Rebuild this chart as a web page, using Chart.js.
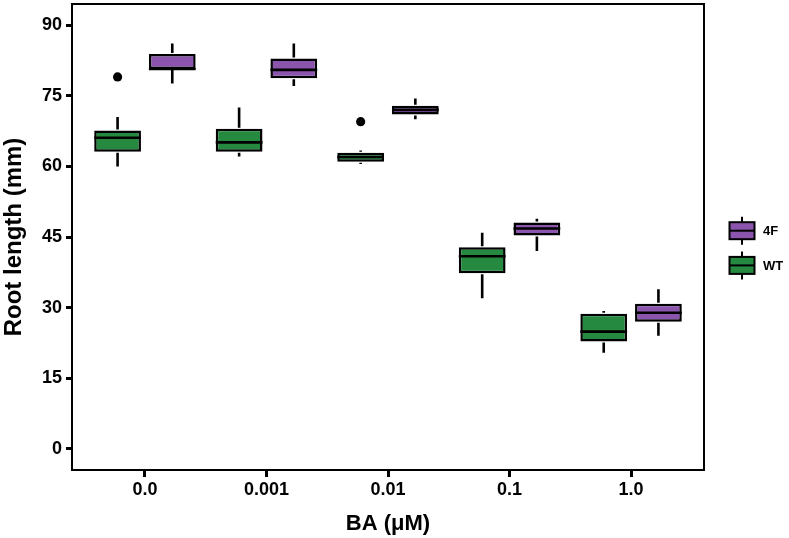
<!DOCTYPE html>
<html>
<head>
<meta charset="utf-8">
<script src="https://cdn.jsdelivr.net/npm/chart.js@4"></script>
<style>
html,body{margin:0;padding:0;background:#fff;}
#wrap{width:789px;height:538px;}
</style>
</head>
<body>
<div id="wrap"><canvas id="c" width="789" height="538"></canvas></div>
<script>
// ---- data ----
const categories = ["0.0", "0.001", "0.01", "0.1", "1.0"];
const yTicks = [0, 15, 30, 45, 60, 75, 90];
const seriesNames = ["WT", "4F"];

const wtLow    = [60.0, 62.1, 60.5, 32.0, 20.4];
const wtQ1     = [63.1, 63.1, 61.0, 37.3, 22.8];
const wtMedian = [66.1, 65.1, 62.0, 40.9, 24.9];
const wtQ3     = [67.6, 68.0, 62.9, 42.8, 28.7];
const wtHigh   = [70.5, 72.5, 63.4, 45.9, 29.3];
const wtOutliers = [[0, 79.0], [2, 69.5]];

const f4Low    = [77.6, 77.1, 70.0, 42.0, 24.0];
const f4Q1     = [80.7, 78.7, 71.0, 45.3, 27.0];
const f4Median = [80.7, 80.5, 72.0, 46.8, 28.9];
const f4Q3     = [83.9, 82.9, 72.9, 48.1, 30.8];
const f4High   = [86.1, 86.1, 74.4, 48.9, 33.9];
const f4Outliers = [];

const stats = [
  {low: wtLow, median: wtMedian, high: wtHigh, outliers: wtOutliers},
  {low: f4Low, median: f4Median, high: f4High, outliers: f4Outliers}
];

const GREEN = '#25893F';
const PURPLE = '#8B55AE';
const FONT = '"Liberation Sans", Arial, Helvetica, sans-serif';

function boxData(q1, q3) {
  return categories.map((c, i) => ({x: i + 1, y: [q1[i], q3[i]]}));
}

const boxPlugin = {
  id: 'boxExtras',
  afterDatasetsDraw(chart) {
    const ctx = chart.ctx;
    const ys = chart.scales.y;
    ctx.save();
    ctx.strokeStyle = '#000';
    ctx.lineCap = 'butt';
    chart.data.datasets.forEach((ds, di) => {
      const meta = chart.getDatasetMeta(di);
      const st = stats[di];
      meta.data.forEach((el, i) => {
        const x = el.x, hw = el.width / 2;
        const q1 = ds.data[i].y[0], q3 = ds.data[i].y[1];
        ctx.lineWidth = 2.6;
        ctx.beginPath();
        ctx.moveTo(x, ys.getPixelForValue(st.low[i]));
        ctx.lineTo(x, ys.getPixelForValue(q1) + 1);
        ctx.moveTo(x, ys.getPixelForValue(q3) - 1);
        ctx.lineTo(x, ys.getPixelForValue(st.high[i]));
        ctx.stroke();
        ctx.beginPath();
        const my = ys.getPixelForValue(st.median[i]);
        ctx.moveTo(x - hw, my);
        ctx.lineTo(x + hw, my);
        ctx.stroke();
      });
      ctx.fillStyle = '#000';
      st.outliers.forEach(([ci, v]) => {
        const el = meta.data[ci];
        ctx.beginPath();
        ctx.arc(el.x, ys.getPixelForValue(v), 4.6, 0, Math.PI * 2);
        ctx.fill();
      });
    });
    ctx.restore();
  },
  afterDraw(chart) {
    const ctx = chart.ctx;
    const a = chart.chartArea;
    ctx.save();
    // panel border
    ctx.strokeStyle = '#000';
    ctx.lineWidth = 2;
    ctx.strokeRect(a.left, a.top, a.right - a.left, a.bottom - a.top);
    // legend (reverse order: 4F then WT)
    const items = [1, 0];
    const kx = a.right + 38;
    const kys = [230.7, 265.4];
    items.forEach((di, k) => {
      const ds = chart.data.datasets[di];
      const cy = kys[k];
      const bw = 25, bh = 17;
      ctx.lineWidth = 2;
      ctx.strokeStyle = '#000';
      ctx.beginPath();
      ctx.moveTo(kx, cy - 14); ctx.lineTo(kx, cy - bh / 2);
      ctx.moveTo(kx, cy + bh / 2); ctx.lineTo(kx, cy + 14);
      ctx.stroke();
      ctx.fillStyle = ds.backgroundColor;
      ctx.fillRect(kx - bw / 2, cy - bh / 2, bw, bh);
      ctx.strokeRect(kx - bw / 2, cy - bh / 2, bw, bh);
      ctx.beginPath();
      ctx.moveTo(kx - bw / 2, cy); ctx.lineTo(kx + bw / 2, cy);
      ctx.stroke();
      ctx.fillStyle = '#000';
      ctx.font = 'bold 13px ' + FONT;
      ctx.textAlign = 'left';
      ctx.textBaseline = 'middle';
      ctx.fillText(ds.label, a.right + 59, cy + 1);
    });
    ctx.restore();
  }
};

new Chart(document.getElementById('c'), {
  type: 'bar',
  data: {
    datasets: [
      {label: seriesNames[0], data: boxData(wtQ1, wtQ3), backgroundColor: GREEN,
       borderColor: '#000', borderWidth: 2.5, borderSkipped: false},
      {label: seriesNames[1], data: boxData(f4Q1, f4Q3), backgroundColor: PURPLE,
       borderColor: '#000', borderWidth: 2.5, borderSkipped: false}
    ]
  },
  plugins: [boxPlugin],
  options: {
    responsive: false,
    animation: false,
    devicePixelRatio: 1,
    categoryPercentage: 0.9,
    barPercentage: 0.855,
    layout: {padding: {top: 4, right: 85, bottom: 0, left: 0}},
    plugins: {legend: {display: false}, tooltip: {enabled: false}},
    scales: {
      x: {
        type: 'linear',
        offset: false,
        min: 0.4, max: 5.6,
        afterBuildTicks(s) { s.ticks = categories.map((c, i) => ({value: i + 1})); },
        afterFit(s) { s.height = 68; s.paddingLeft = 0; s.paddingRight = 0; },
        grid: {display: true, offset: false, drawOnChartArea: false, drawTicks: true, tickLength: 7, tickWidth: 3, tickColor: '#000'},
        border: {display: true, color: '#000', width: 2},
        ticks: {
          color: '#000', padding: 2,
          font: {family: FONT, size: 18, weight: 'bold'},
          callback: (v) => categories[Math.round(v) - 1],
          maxRotation: 0, autoSkip: false
        },
        title: {display: true, text: 'BA (μM)', color: '#000',
                font: {family: FONT, size: 22, weight: 'bold'}, padding: {top: 0, bottom: 1}}
      },
      y: {
        type: 'linear',
        min: -4.5, max: 94.5,
        afterBuildTicks(s) { s.ticks = yTicks.map(v => ({value: v})); },
        afterFit(s) { s.width = 72; s.paddingTop = 0; s.paddingBottom = 0; },
        grid: {display: true, drawOnChartArea: false, drawTicks: true, tickLength: 6, tickWidth: 3, tickColor: '#000'},
        border: {display: true, color: '#000', width: 2},
        ticks: {
          color: '#000', padding: 4,
          font: {family: FONT, size: 18, weight: 'bold'},
          autoSkip: false
        },
        title: {display: true, text: 'Root length (mm)', color: '#000',
                font: {family: FONT, size: 24, weight: 'bold'}, padding: {top: 0, bottom: 0}}
      }
    }
  }
});
</script>
</body>
</html>
